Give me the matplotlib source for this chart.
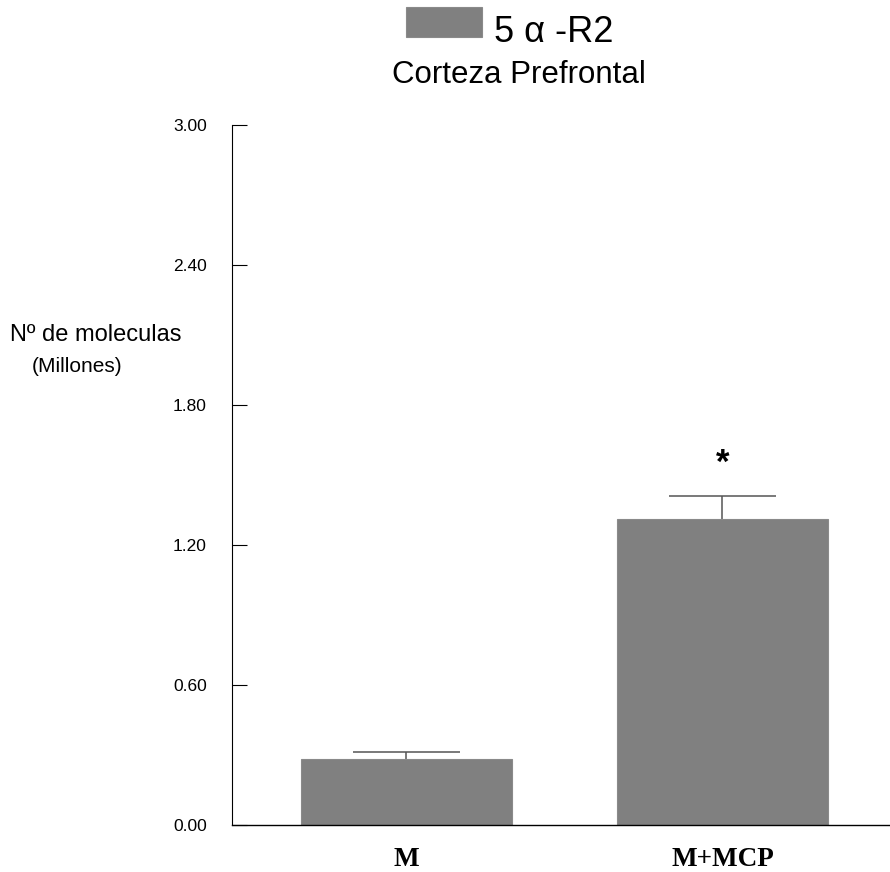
import matplotlib
matplotlib.use("Agg")
import matplotlib.pyplot as plt

grupos = ["M", "M+MCP"]
medias = [0.283, 1.311]
errores = [0.030, 0.100]
marcas_y = [0.0, 0.6, 1.2, 1.8, 2.4, 3.0]
etiquetas_y = ["0.00", "0.60", "1.20", "1.80", "2.40", "3.00"]

plt.rcParams["font.family"] = ["Liberation Sans", "DejaVu Sans"]

fig = plt.figure(figsize=(8.9, 8.72), dpi=100)
ax = fig.add_axes([232 / 890, 1 - 825 / 872, 1 - 232 / 890, 700 / 872])

pos = list(range(len(grupos)))
barras = ax.bar(pos, medias, width=0.668, color="#808080", edgecolor="#8a8a8a",
                linewidth=0.8, label="5 α -R2", zorder=2)

# solo la mitad superior del error estandar
topes = [m + e for m, e in zip(medias, errores)]
ax.vlines(pos, medias, topes, color="#555555", linewidth=1.1, zorder=1)
ax.hlines(topes, [p - 0.168 for p in pos], [p + 0.168 for p in pos],
          color="#555555", linewidth=1.1, zorder=1)

# asterisco de significacion sobre M+MCP
ax.text(1, topes[1] + 0.14, "*", ha="center", va="center",
        fontsize=25, fontweight="bold")

ax.set_ylim(0, 3.0)
ax.set_xlim(-0.552, 1.53)
ax.set_yticks(marcas_y)
ax.set_yticklabels(etiquetas_y, fontsize=12.5)
ax.tick_params(axis="y", direction="in", length=11, width=0.8, pad=18)
ax.set_xticks(pos)
ax.set_xticklabels(grupos, fontsize=19.5, fontweight="bold", family="Liberation Serif")
ax.tick_params(axis="x", length=0, pad=16)

for s in ["top", "right"]:
    ax.spines[s].set_visible(False)
ax.spines["left"].set_linewidth(0.8)
ax.spines["bottom"].set_linewidth(1.0)

fig.text(10 / 890, 1 - 335 / 872, "Nº de moleculas", fontsize=17, va="center", ha="left")
fig.text(77 / 890, 1 - 366 / 872, "(Millones)", fontsize=15, va="center", ha="center")

fig.text(519 / 890, 1 - 75 / 872, "Corteza Prefrontal", fontsize=22.5, ha="center", va="center")
leg = fig.legend(handles=[barras], loc="center", bbox_to_anchor=(510 / 890, 1 - 25 / 872),
                 frameon=False, fontsize=26, handlelength=2.1, handleheight=0.9,
                 handletextpad=0.35, borderpad=0)
leg.get_texts()[0].set_y(-7)

fig.savefig("out.png", dpi=100)
